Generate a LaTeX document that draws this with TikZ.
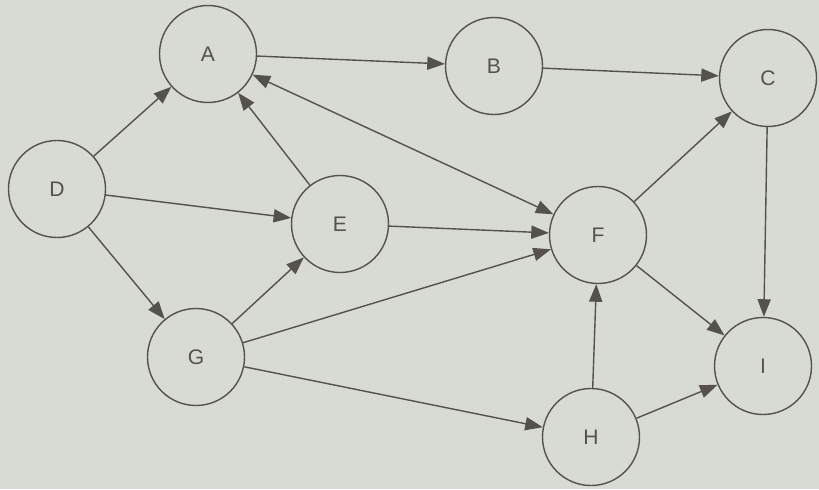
\documentclass[tikz,border=0pt]{standalone}
\usepackage{fontspec}
\setmainfont{Liberation Sans}
\usetikzlibrary{arrows.meta}
\definecolor{paper}{RGB}{216,218,212}
\definecolor{ink}{RGB}{85,82,78}

\begin{document}
\begin{tikzpicture}[
            vertex/.style={circle,draw=ink,thick,minimum size=1.94cm,inner sep=0pt,text=ink,font=\large},
            edge/.style={draw=ink,thick,-{Triangle[length=10pt,width=7.5pt]}}
        ]
            \fill [paper] (0,0) rectangle (16.38,9.78);
            \node [vertex] (A) at (4.16,8.70) {A};
            \node [vertex] (B) at (9.88,8.46) {B};
            \node [vertex] (C) at (15.36,8.22) {C};
            \node [vertex] (D) at (1.14,6.00) {D};
            \node [vertex] (E) at (6.80,5.30) {E};
            \node [vertex] (F) at (11.96,5.08) {F};
            \node [vertex] (G) at (3.92,2.64) {G};
            \node [vertex] (H) at (11.82,1.04) {H};
            \node [vertex] (I) at (15.26,2.46) {I};
            \draw [edge] (A) -- (B);
            \draw [edge] (B) -- (C);
            \draw [edge] (D) -- (A);
            \draw [edge] (D) -- (E);
            \draw [edge] (D) -- (G);
            \draw [edge] (E) -- (A);
            \draw [edge,{Triangle[length=10pt,width=7.5pt]}-{Triangle[length=10pt,width=7.5pt]}] (A) -- (F);
            \draw [edge] (E) -- (F);
            \draw [edge] (G) -- (E);
            \draw [edge] (G) -- (F);
            \draw [edge] (G) -- (H);
            \draw [edge] (F) -- (C);
            \draw [edge] (F) -- (I);
            \draw [edge] (C) -- (I);
            \draw [edge] (H) -- (F);
            \draw [edge] (H) -- (I);
        \end{tikzpicture}
\end{document}
